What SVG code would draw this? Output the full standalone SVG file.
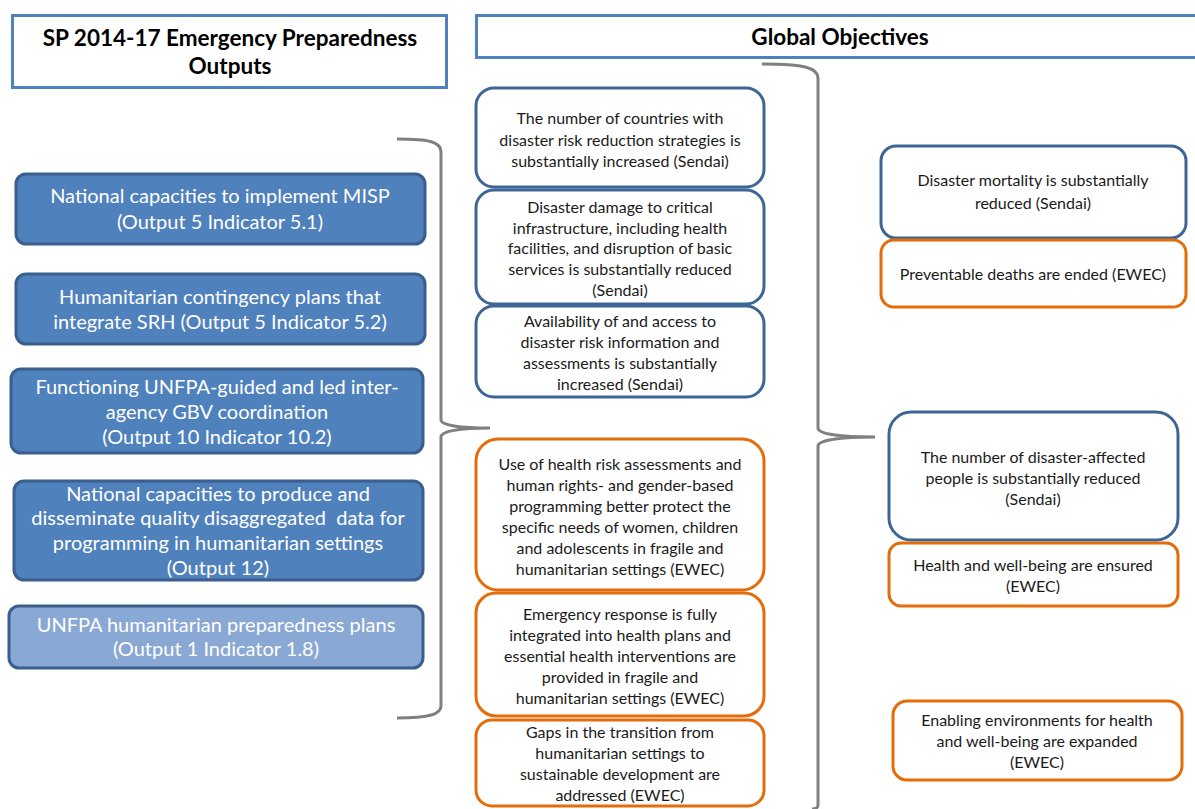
<svg xmlns="http://www.w3.org/2000/svg" width="1195" height="809" viewBox="0 0 1195 809">
<style>
.hdr{fill:#fff;stroke:#4F81BD;stroke-width:3}
.ht{font-family:Lato,"Liberation Sans",sans-serif;font-weight:bold;font-size:22.5px;fill:#000;text-anchor:middle}
.bl{fill:#4F81BD;stroke:#3A5F8E;stroke-width:3}
.lbl{fill:#8AA8D4;stroke:#3A5F8E;stroke-width:3}
.wt{font-family:Lato,"Liberation Sans",sans-serif;font-size:20px;fill:#fff;text-anchor:middle;white-space:pre}
.ob{fill:#fff;stroke:#3D6697;stroke-width:3}
.oo{fill:#fff;stroke:#E46C0A;stroke-width:3}
.dt{font-family:Lato,"Liberation Sans",sans-serif;font-size:16px;fill:#1a1a1a;text-anchor:middle}
.br{fill:none;stroke:#808080;stroke-width:3}
</style>
<rect width="1195" height="809" fill="#fff"/>
<g id="hdr-left">
<rect class="hdr" x="12.5" y="15.5" width="434" height="72"/>
<text class="ht" x="230" y="46">SP 2014-17 Emergency Preparedness</text>
<text class="ht" x="230" y="74">Outputs</text>
</g>
<g id="hdr-right">
<rect class="hdr" x="476.5" y="15.5" width="730" height="42"/>
<text class="ht" x="840" y="45">Global Objectives</text>
</g>
<g id="out1">
<rect class="bl" x="16" y="174" width="409" height="70" rx="10"/>
<text class="wt" x="220" y="203">National capacities to implement MISP</text>
<text class="wt" x="220" y="229">(Output 5 Indicator 5.1)</text>
</g>
<g id="out2">
<rect class="bl" x="16" y="274" width="409" height="70" rx="10"/>
<text class="wt" x="220" y="304">Humanitarian contingency plans that</text>
<text class="wt" x="220" y="329">integrate SRH (Output 5 Indicator 5.2)</text>
</g>
<g id="out3">
<rect class="bl" x="11" y="369" width="412" height="84" rx="10"/>
<text class="wt" x="217" y="394">Functioning UNFPA-guided and led inter-</text>
<text class="wt" x="217" y="419">agency GBV coordination</text>
<text class="wt" x="217" y="444">(Output 10 Indicator 10.2)</text>
</g>
<g id="out4">
<rect class="bl" x="14" y="481" width="409" height="99" rx="10"/>
<text class="wt" x="218" y="501">National capacities to produce and</text>
<text class="wt" x="218" y="525">disseminate quality disaggregated  data for</text>
<text class="wt" x="218" y="550">programming in humanitarian settings</text>
<text class="wt" x="218" y="575">(Output 12)</text>
</g>
<g id="out5">
<rect class="lbl" x="9" y="606" width="414" height="62" rx="10"/>
<text class="wt" x="216" y="632">UNFPA humanitarian preparedness plans</text>
<text class="wt" x="216" y="656">(Output 1 Indicator 1.8)</text>
</g>
<g id="connectors">
<path class="br" d="M397,139 C430,139 441,142 441,152 L441,420 C441,425 460,428 490,428 C460,428 441,431 441,437 L441,706 C441,714 430,718 397,718"/>
<path class="br" d="M762,64 C805,64 818,68 818,78 L818,428 C818,434 840,437 875,437 C840,437 818,440 818,446 L818,805 C818,808 815,809 812,809"/>
</g>
<g id="mid1">
<rect class="ob" x="476" y="88" width="288" height="99" rx="18"/>
<text class="dt" x="620" y="124">The number of countries with</text>
<text class="dt" x="620" y="146">disaster risk reduction strategies is</text>
<text class="dt" x="620" y="167">substantially increased (Sendai)</text>
</g>
<g id="mid2">
<rect class="ob" x="476" y="190" width="288" height="114" rx="18"/>
<text class="dt" x="620" y="213">Disaster damage to critical</text>
<text class="dt" x="620" y="234">infrastructure, including health</text>
<text class="dt" x="620" y="254">facilities, and disruption of basic</text>
<text class="dt" x="620" y="275">services is substantially reduced</text>
<text class="dt" x="620" y="296">(Sendai)</text>
</g>
<g id="mid3">
<rect class="ob" x="476" y="306" width="288" height="91" rx="18"/>
<text class="dt" x="620" y="327">Availability of and access to</text>
<text class="dt" x="620" y="348">disaster risk information and</text>
<text class="dt" x="620" y="369">assessments is substantially</text>
<text class="dt" x="620" y="390">increased (Sendai)</text>
</g>
<g id="mid4">
<rect class="oo" x="476" y="439" width="288" height="151" rx="22"/>
<text class="dt" x="620" y="470">Use of health risk assessments and</text>
<text class="dt" x="620" y="491">human rights- and gender-based</text>
<text class="dt" x="620" y="512">programming better protect the</text>
<text class="dt" x="620" y="533">specific needs of women, children</text>
<text class="dt" x="620" y="554">and adolescents in fragile and</text>
<text class="dt" x="620" y="575">humanitarian settings (EWEC)</text>
</g>
<g id="mid5">
<rect class="oo" x="476" y="593" width="288" height="123" rx="20"/>
<text class="dt" x="620" y="620">Emergency response is fully</text>
<text class="dt" x="620" y="641">integrated into health plans and</text>
<text class="dt" x="620" y="662">essential health interventions are</text>
<text class="dt" x="620" y="683">provided in fragile and</text>
<text class="dt" x="620" y="704">humanitarian settings (EWEC)</text>
</g>
<g id="mid6">
<rect class="oo" x="476" y="720" width="288" height="86" rx="16"/>
<text class="dt" x="620" y="738">Gaps in the transition from</text>
<text class="dt" x="620" y="759">humanitarian settings to</text>
<text class="dt" x="620" y="780">sustainable development are</text>
<text class="dt" x="620" y="801">addressed (EWEC)</text>
</g>
<g id="goal1">
<rect class="ob" x="881" y="146" width="305" height="92" rx="15"/>
<text class="dt" x="1033" y="186">Disaster mortality is substantially</text>
<text class="dt" x="1033" y="209">reduced (Sendai)</text>
</g>
<g id="goal2">
<rect class="oo" x="881" y="240" width="305" height="67" rx="13"/>
<text class="dt" x="1033" y="280">Preventable deaths are ended (EWEC)</text>
</g>
<g id="goal3">
<rect class="ob" x="889" y="412" width="289" height="128" rx="22"/>
<text class="dt" x="1033" y="463">The number of disaster-affected</text>
<text class="dt" x="1033" y="484">people is substantially reduced</text>
<text class="dt" x="1033" y="505">(Sendai)</text>
</g>
<g id="goal4">
<rect class="oo" x="889" y="543" width="289" height="63" rx="12"/>
<text class="dt" x="1033" y="571">Health and well-being are ensured</text>
<text class="dt" x="1033" y="592">(EWEC)</text>
</g>
<g id="goal5">
<rect class="oo" x="893" y="701" width="289" height="79" rx="14"/>
<text class="dt" x="1037" y="726">Enabling environments for health</text>
<text class="dt" x="1037" y="747">and well-being are expanded</text>
<text class="dt" x="1037" y="768">(EWEC)</text>
</g>
</svg>
